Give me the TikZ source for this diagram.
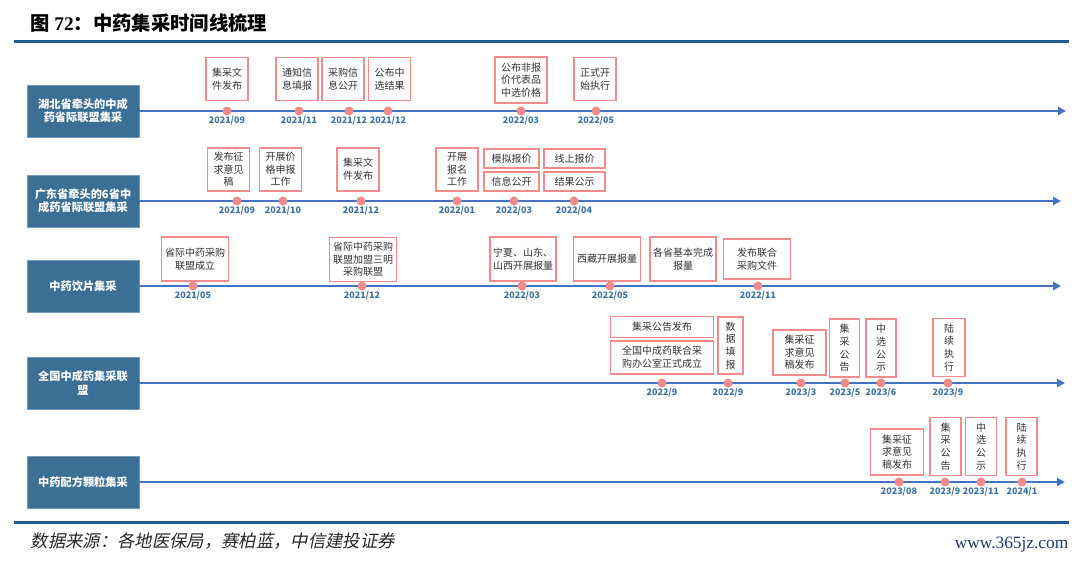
\documentclass[tikz,border=0pt]{standalone}
\usepackage{fontspec}
\setmainfont{Noto Sans CJK SC}
\newfontfamily\numfont{Liberation Serif}
\newfontfamily\srcfont[FakeSlant=0.2]{Noto Sans CJK SC}
\usetikzlibrary{arrows.meta}
\definecolor{rowblue}{HTML}{3B6F96}
\definecolor{lineblue}{HTML}{4472C4}
\definecolor{pinkline}{HTML}{F28B8B}
\definecolor{dotpink}{HTML}{F2898B}
\definecolor{datblue}{HTML}{3E72A0}
\definecolor{rulblue}{HTML}{1F5B8C}
\definecolor{siteblue}{HTML}{1F3A6E}
\definecolor{txtgray}{HTML}{333333}
\tikzset{
  sz/.style 2 args={minimum width=#1*0.75pt, minimum height=#2*0.75pt},
  rowbox/.style={fill=rowblue, draw=rowblue!70!white, line width=0.5pt, text=white, align=center, inner sep=0pt, sz={112}{52}, font=\bfseries\fontsize{8.4}{10}\selectfont},
  ebox/.style={draw=pinkline, line width=1.4pt, fill=white, text=txtgray, align=center, inner sep=0pt, sz={42}{43}, font=\fontsize{7.5}{9.5}\selectfont},
  datetext/.style={text=datblue, inner sep=0pt, font=\bfseries\fontsize{6.7}{8}\selectfont},
  stamp/.style={circle, fill=dotpink, inner sep=0pt, minimum size=6.75pt, label={[datetext]below:#1}, label distance=2.1pt},
  tline/.style={-{Triangle[length=6pt, width=6pt]}, line width=2pt, lineblue},
  rulebar/.style={line width=2.25pt, rulblue},
}
\begin{document}
\begin{tikzpicture}[x=0.75pt, y=-0.75pt]
    \useasboundingbox (0,0) rectangle (1080,561);
    \node[anchor=west, font=\bfseries\fontsize{14.5}{16}\selectfont] (title) at (26,23) {图 {\numfont 72}：中药集采时间线梳理};
    \draw[rulebar] (14,41.5) -- (1069,41.5);
    \draw[rulebar] (14,522.5) -- (1069,522.5);
    \node[anchor=west, font=\srcfont\fontsize{13}{15}\selectfont, text=black!85] (source) at (26,541) {数据来源：各地医保局，赛柏蓝，中信建投证券};
    \node[anchor=east, font=\numfont\fontsize{13}{15}\selectfont, text=siteblue] (site) at (1073,545) {www.365jz.com};

    \node[rowbox] (hubei) at (83,111) {湖北省牵头的中成\\药省际联盟集采};
    \coordinate (hbend) at (1066,111);
    \draw[tline] (hubei.east) -- (hbend);
    \node[ebox] (hb1) at (227,79) {集采文\\件发布};
    \node[ebox] (hb2) at (297,79) {通知信\\息填报};
    \node[ebox] (hb3) at (343,79) {采购信\\息公开};
    \node[ebox] (hb4) at (389.5,79) {公布中\\选结果};
    \node[ebox, sz={52}{46}] (hb5) at (521,80) {公布非报\\价代表品\\中选价格};
    \node[ebox] (hb6) at (595,79) {正式开\\始执行};
    \node[stamp=2021/09] (hbp1) at (227,111) {};
    \node[stamp=2021/11] (hbp2) at (299,111) {};
    \node[stamp=2021/12] (hbp3) at (349,111) {};
    \node[stamp=2021/12] (hbp4) at (388,111) {};
    \node[stamp=2022/03] (hbp5) at (521,111) {};
    \node[stamp=2022/05] (hbp6) at (596,111) {};

    \node[rowbox] (guangdong) at (83,201) {广东省牵头的6省中\\成药省际联盟集采};
    \coordinate (gdend) at (1061,201);
    \draw[tline] (guangdong.east) -- (gdend);
    \node[ebox] (gd1) at (228.5,169.5) {发布征\\求意见\\稿};
    \node[ebox] (gd2) at (280.5,169.5) {开展价\\格申报\\工作};
    \node[ebox] (gd3) at (358,169.5) {集采文\\件发布};
    \node[ebox] (gd4) at (457,169.5) {开展\\报名\\工作};
    \node[ebox, sz={55}{19}] (gd5) at (511.5,158.5) {模拟报价};
    \node[ebox, sz={55}{19}] (gd6) at (511.5,181.5) {信息公开};
    \node[ebox, sz={61}{19}] (gd7) at (574.5,158.5) {线上报价};
    \node[ebox, sz={61}{19}] (gd8) at (574.5,181.5) {结果公示};
    \node[stamp=2021/09] (gdp1) at (237,201) {};
    \node[stamp=2021/10] (gdp2) at (283,201) {};
    \node[stamp=2021/12] (gdp3) at (361,201) {};
    \node[stamp=2022/01] (gdp4) at (457,201) {};
    \node[stamp=2022/03] (gdp5) at (514,201) {};
    \node[stamp=2022/04] (gdp6) at (574,201) {};

    \node[rowbox] (yinpian) at (83,286) {中药饮片集采};
    \coordinate (ypend) at (1061,286);
    \draw[tline] (yinpian.east) -- (ypend);
    \node[ebox, sz={67}{44}] (yp1) at (195,259) {省际中药采购\\联盟成立};
    \node[ebox, sz={67}{44}] (yp2) at (363,259.5) {省际中药采购\\联盟加盟三明\\采购联盟};
    \node[ebox, sz={66}{44}] (yp3) at (523,259) {宁夏、山东、\\山西开展报量};
    \node[ebox, sz={67}{44}] (yp4) at (607,259) {西藏开展报量};
    \node[ebox, sz={66}{44}] (yp5) at (683,259) {各省基本完成\\报量};
    \node[ebox, sz={67}{40}] (yp6) at (757,259) {发布联合\\采购文件};
    \node[stamp=2021/05] (ypp1) at (193,286) {};
    \node[stamp=2021/12] (ypp2) at (362,286) {};
    \node[stamp=2022/03] (ypp3) at (522,286) {};
    \node[stamp=2022/05] (ypp4) at (610,286) {};
    \node[stamp=2022/11] (ypp5) at (758,286) {};

    \node[rowbox] (quanguo) at (83,383) {全国中成药集采联\\盟};
    \coordinate (qgend) at (1065,383);
    \draw[tline] (quanguo.east) -- (qgend);
    \node[ebox, sz={103}{21}] (qg1) at (662,327) {集采公告发布};
    \node[ebox, sz={103}{33}] (qg2) at (662,357.5) {全国中成药联合采\\购办公室正式成立};
    \node[ebox, sz={25}{57}] (qg3) at (730.5,345.5) {数\\据\\填\\报};
    \node[ebox, sz={53}{45}] (qg4) at (799.5,352.5) {集采征\\求意见\\稿发布};
    \node[ebox, sz={30}{58}] (qg5) at (844.5,348) {集\\采\\公\\告};
    \node[ebox, sz={30}{58}] (qg6) at (881,348) {中\\选\\公\\示};
    \node[ebox, sz={32}{58}] (qg7) at (949,347.5) {陆\\续\\执\\行};
    \node[stamp=2022/9] (qgp1) at (662,383) {};
    \node[stamp=2022/9] (qgp2) at (728,383) {};
    \node[stamp=2023/3] (qgp3) at (801,383) {};
    \node[stamp=2023/5] (qgp4) at (845,383) {};
    \node[stamp=2023/6] (qgp5) at (881,383) {};
    \node[stamp=2023/9] (qgp6) at (948,383) {};

    \node[rowbox] (keli) at (83,482) {中药配方颗粒集采};
    \coordinate (klend) at (1065,482);
    \draw[tline] (keli.east) -- (klend);
    \node[ebox, sz={53}{46}] (kl1) at (897,452) {集采征\\求意见\\稿发布};
    \node[ebox, sz={31}{58}] (kl2) at (945.5,446.5) {集\\采\\公\\告};
    \node[ebox, sz={31}{58}] (kl3) at (981,446.5) {中\\选\\公\\示};
    \node[ebox, sz={31}{58}] (kl4) at (1021.5,446.5) {陆\\续\\执\\行};
    \node[stamp=2023/08, label distance=-0.5pt] (klp1) at (899,482) {};
    \node[stamp=2023/9, label distance=-0.5pt] (klp2) at (945,482) {};
    \node[stamp=2023/11, label distance=-0.5pt] (klp3) at (981,482) {};
    \node[stamp=2024/1, label distance=-0.5pt] (klp4) at (1022,482) {};
\end{tikzpicture}
\end{document}
